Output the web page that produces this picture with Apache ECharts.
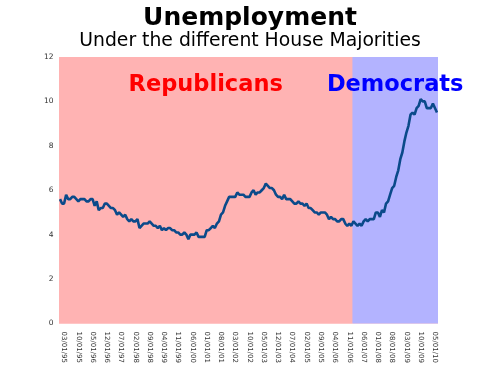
<!DOCTYPE html>
<html>
<head>
<meta charset="utf-8">
<script src="https://cdn.jsdelivr.net/npm/echarts@6/dist/echarts.min.js"></script>
<style>html,body{margin:0;padding:0;background:#fff}#c{width:500px;height:375px}</style>
</head>
<body>
<div id="c"></div>
<script>
// Monthly unemployment rate (%), Jan 1995 - Jun 2010
const y1995 = [5.6,5.4,5.4,5.8,5.6,5.6,5.7,5.7,5.6,5.5,5.6,5.6];
const y1996 = [5.6,5.5,5.5,5.6,5.6,5.3,5.5,5.1,5.2,5.2,5.4,5.4];
const y1997 = [5.3,5.2,5.2,5.1,4.9,5.0,4.9,4.8,4.9,4.7,4.6,4.7];
const y1998 = [4.6,4.6,4.7,4.3,4.4,4.5,4.5,4.5,4.6,4.5,4.4,4.4];
const y1999 = [4.3,4.4,4.2,4.3,4.2,4.3,4.3,4.2,4.2,4.1,4.1,4.0];
const y2000 = [4.0,4.1,4.0,3.8,4.0,4.0,4.0,4.1,3.9,3.9,3.9,3.9];
const y2001 = [4.2,4.2,4.3,4.4,4.3,4.5,4.6,4.9,5.0,5.3,5.5,5.7];
const y2002 = [5.7,5.7,5.7,5.9,5.8,5.8,5.8,5.7,5.7,5.7,5.9,6.0];
const y2003 = [5.8,5.9,5.9,6.0,6.1,6.3,6.2,6.1,6.1,6.0,5.8,5.7];
const y2004 = [5.7,5.6,5.8,5.6,5.6,5.6,5.5,5.4,5.4,5.5,5.4,5.4];
const y2005 = [5.3,5.4,5.2,5.2,5.1,5.0,5.0,4.9,5.0,5.0,5.0,4.9];
const y2006 = [4.7,4.8,4.7,4.7,4.6,4.6,4.7,4.7,4.5,4.4,4.5,4.4];
const y2007 = [4.6,4.5,4.4,4.5,4.4,4.6,4.7,4.6,4.7,4.7,4.7,5.0];
const y2008 = [5.0,4.8,5.1,5.0,5.4,5.5,5.8,6.1,6.2,6.6,6.9,7.4];
const y2009 = [7.7,8.2,8.6,8.9,9.4,9.5,9.4,9.7,9.8,10.1,10.0,10.0];
const y2010 = [9.7,9.7,9.7,9.9,9.7,9.5];
const startYear = 1995;
const years = [y1995,y1996,y1997,y1998,y1999,y2000,y2001,y2002,y2003,y2004,y2005,y2006,y2007,y2008,y2009,y2010];

// House majority periods (category labels where each begins)
const repStart = '01/01/95';
const demStart = '01/01/07';
const majorityNames = ['Republicans', 'Democrats'];
const majorityColors = ['#ff0000', '#0000ff'];
const areaColors = ['#ffb3b3', '#b3b3ff'];

const yTicks = {min: 0, max: 12, interval: 2};
const labelFirst = 2, labelStep = 7;

const categories = [];
const values = [];
years.forEach((arr, yi) => {
  arr.forEach((v, mi) => {
    const mm = String(mi + 1).padStart(2, '0');
    const yy = String((startYear + yi) % 100).padStart(2, '0');
    categories.push(mm + '/01/' + yy);
    values.push(v);
  });
});
const N = categories.length;
const repIdx = categories.indexOf(repStart);
const demIdx = categories.indexOf(demStart);

const chart = echarts.init(document.getElementById('c'));
const FONT = 'DejaVu Sans';
const areaLabel = (k) => ({
  show: true, position: 'insideTop', distance: 17,
  fontFamily: FONT, fontWeight: 'bold', fontSize: 22.5, color: majorityColors[k]
});
chart.setOption({
  animation: false,
  title: {
    text: 'Unemployment',
    subtext: 'Under the different House Majorities',
    left: 'center',
    top: 1,
    itemGap: 1,
    textStyle: {fontFamily: FONT, fontWeight: 'bold', fontSize: 25, color: '#000'},
    subtextStyle: {fontFamily: FONT, fontSize: 18.8, color: '#000'}
  },
  grid: {left: 59, right: 62, top: 57, bottom: 51.5, show: true, borderWidth: 0, backgroundColor: areaColors[0]},
  xAxis: [{
    type: 'category',
    data: categories,
    boundaryGap: true,
    axisLine: {show: false},
    axisTick: {show: false},
    axisLabel: {
      rotate: -90,
      fontFamily: FONT,
      fontSize: 7,
      color: '#333',
      margin: 8,
      interval: (i) => i >= labelFirst && (i - labelFirst) % labelStep === 0
    },
    splitLine: {show: false}
  }, {
    // month-boundary scale used for the majority background bands
    type: 'value', min: 0, max: N, show: false,
    splitLine: {show: false}
  }],
  yAxis: {
    type: 'value',
    min: yTicks.min, max: yTicks.max, interval: yTicks.interval,
    axisLine: {show: false},
    axisTick: {show: false},
    splitLine: {show: false},
    axisLabel: {fontFamily: FONT, fontSize: 7.5, color: '#333', margin: 5.5}
  },
  series: [
    {
      type: 'line', xAxisIndex: 1, data: [], silent: true, z: 1,
      markArea: {
        silent: true,
        data: [
          [{name: majorityNames[0], xAxis: repIdx, itemStyle: {color: areaColors[0], opacity: 1}, label: areaLabel(0)},
           {xAxis: demIdx}],
          [{name: majorityNames[1], xAxis: demIdx, itemStyle: {color: areaColors[1], opacity: 1}, label: areaLabel(1)},
           {xAxis: N}]
        ]
      }
    },
    {
      type: 'line', data: values, showSymbol: false, z: 5,
      lineStyle: {color: '#0b4a8a', width: 2.6}
    }
  ]
});
</script>
</body>
</html>
